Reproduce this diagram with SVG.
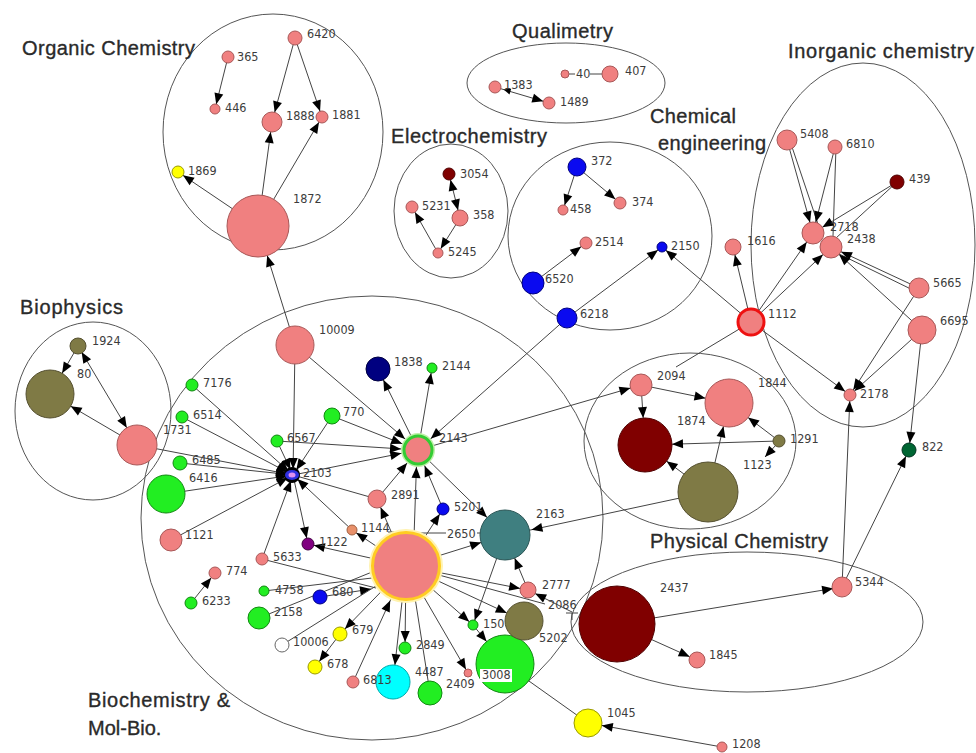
<svg xmlns="http://www.w3.org/2000/svg" width="976" height="753" viewBox="0 0 976 753">
<style>
.bg{fill:#fff}
.cl{fill:none;stroke:#555;stroke-width:1}
.e line{stroke:#444;stroke-width:1}
.t{font-family:"Liberation Sans",Arial,sans-serif;font-size:20px;fill:#2a2a2a;stroke:#2a2a2a;stroke-width:0.35}
.l{font-family:"DejaVu Sans Condensed","DejaVu Sans",sans-serif;font-stretch:condensed;font-size:12.5px;fill:#3c3c3c}
.pk{fill:#f08080;stroke:#a85858}
.gr{fill:#22ee22;stroke:#118811}
.bl{fill:#0a0af0;stroke:#000080}
.nv{fill:#000080;stroke:#000040}
.dr{fill:#800000;stroke:#500000}
.ol{fill:#7f7a45;stroke:#555030}
.tl{fill:#3f7f80;stroke:#2a5555}
.cy{fill:#00ffff;stroke:#00aaaa}
.yl{fill:#ffff00;stroke:#999900}
.pu{fill:#800080;stroke:#400040}
.or{fill:#e8906a;stroke:#a06040}
.wh{fill:#fff;stroke:#666}
.dg{fill:#006633;stroke:#003320}
</style>
<defs>
<marker id="m0" markerUnits="userSpaceOnUse" markerWidth="60" markerHeight="10" refX="11" refY="4.5" orient="auto-start-reverse" overflow="visible"><path d="M0,0L11,4.5L0,9z" fill="#000"/></marker>
<marker id="m4" markerUnits="userSpaceOnUse" markerWidth="60" markerHeight="10" refX="15" refY="4.5" orient="auto-start-reverse" overflow="visible"><path d="M0,0L11,4.5L0,9z" fill="#000"/></marker>
<marker id="m5" markerUnits="userSpaceOnUse" markerWidth="60" markerHeight="10" refX="16" refY="4.5" orient="auto-start-reverse" overflow="visible"><path d="M0,0L11,4.5L0,9z" fill="#000"/></marker>
<marker id="m6" markerUnits="userSpaceOnUse" markerWidth="60" markerHeight="10" refX="17" refY="4.5" orient="auto-start-reverse" overflow="visible"><path d="M0,0L11,4.5L0,9z" fill="#000"/></marker>
<marker id="m7" markerUnits="userSpaceOnUse" markerWidth="60" markerHeight="10" refX="18" refY="4.5" orient="auto-start-reverse" overflow="visible"><path d="M0,0L11,4.5L0,9z" fill="#000"/></marker>
<marker id="m8" markerUnits="userSpaceOnUse" markerWidth="60" markerHeight="10" refX="19" refY="4.5" orient="auto-start-reverse" overflow="visible"><path d="M0,0L11,4.5L0,9z" fill="#000"/></marker>
<marker id="m9" markerUnits="userSpaceOnUse" markerWidth="60" markerHeight="10" refX="20" refY="4.5" orient="auto-start-reverse" overflow="visible"><path d="M0,0L11,4.5L0,9z" fill="#000"/></marker>
<marker id="m10" markerUnits="userSpaceOnUse" markerWidth="60" markerHeight="10" refX="21" refY="4.5" orient="auto-start-reverse" overflow="visible"><path d="M0,0L11,4.5L0,9z" fill="#000"/></marker>
<marker id="m11" markerUnits="userSpaceOnUse" markerWidth="60" markerHeight="10" refX="22" refY="4.5" orient="auto-start-reverse" overflow="visible"><path d="M0,0L11,4.5L0,9z" fill="#000"/></marker>
<marker id="m12" markerUnits="userSpaceOnUse" markerWidth="60" markerHeight="10" refX="23" refY="4.5" orient="auto-start-reverse" overflow="visible"><path d="M0,0L11,4.5L0,9z" fill="#000"/></marker>
<marker id="m13" markerUnits="userSpaceOnUse" markerWidth="60" markerHeight="10" refX="25" refY="4.5" orient="auto-start-reverse" overflow="visible"><path d="M0,0L11,4.5L0,9z" fill="#000"/></marker>
<marker id="m16" markerUnits="userSpaceOnUse" markerWidth="60" markerHeight="10" refX="28" refY="4.5" orient="auto-start-reverse" overflow="visible"><path d="M0,0L11,4.5L0,9z" fill="#000"/></marker>
<marker id="m17" markerUnits="userSpaceOnUse" markerWidth="60" markerHeight="10" refX="28" refY="4.5" orient="auto-start-reverse" overflow="visible"><path d="M0,0L11,4.5L0,9z" fill="#000"/></marker>
<marker id="m19" markerUnits="userSpaceOnUse" markerWidth="60" markerHeight="10" refX="30" refY="4.5" orient="auto-start-reverse" overflow="visible"><path d="M0,0L11,4.5L0,9z" fill="#000"/></marker>
<marker id="m20" markerUnits="userSpaceOnUse" markerWidth="60" markerHeight="10" refX="31" refY="4.5" orient="auto-start-reverse" overflow="visible"><path d="M0,0L11,4.5L0,9z" fill="#000"/></marker>
<marker id="m23" markerUnits="userSpaceOnUse" markerWidth="60" markerHeight="10" refX="35" refY="4.5" orient="auto-start-reverse" overflow="visible"><path d="M0,0L11,4.5L0,9z" fill="#000"/></marker>
<marker id="m25" markerUnits="userSpaceOnUse" markerWidth="60" markerHeight="10" refX="36" refY="4.5" orient="auto-start-reverse" overflow="visible"><path d="M0,0L11,4.5L0,9z" fill="#000"/></marker>
<marker id="m27" markerUnits="userSpaceOnUse" markerWidth="60" markerHeight="10" refX="38" refY="4.5" orient="auto-start-reverse" overflow="visible"><path d="M0,0L11,4.5L0,9z" fill="#000"/></marker>
<marker id="m29" markerUnits="userSpaceOnUse" markerWidth="60" markerHeight="10" refX="40" refY="4.5" orient="auto-start-reverse" overflow="visible"><path d="M0,0L11,4.5L0,9z" fill="#000"/></marker>
<marker id="m31" markerUnits="userSpaceOnUse" markerWidth="60" markerHeight="10" refX="42" refY="4.5" orient="auto-start-reverse" overflow="visible"><path d="M0,0L11,4.5L0,9z" fill="#000"/></marker>
<marker id="m38" markerUnits="userSpaceOnUse" markerWidth="60" markerHeight="10" refX="49" refY="4.5" orient="auto-start-reverse" overflow="visible"><path d="M0,0L11,4.5L0,9z" fill="#000"/></marker>
<marker id="sm" markerUnits="userSpaceOnUse" markerWidth="30" markerHeight="8" refX="16" refY="3" orient="auto-start-reverse" overflow="visible"><path d="M0,0L7,3L0,6z" fill="#000"/></marker>
</defs>
<rect class="bg" width="976" height="753"/>

<g id="clusters">
<ellipse class="cl" cx="273" cy="132" rx="110" ry="118"/>
<ellipse class="cl" cx="566" cy="83" rx="99" ry="40"/>
<ellipse class="cl" cx="451" cy="211" rx="57" ry="67"/>
<ellipse class="cl" cx="610" cy="236" rx="102" ry="94"/>
<ellipse class="cl" cx="863" cy="245" rx="112" ry="182"/>
<ellipse class="cl" cx="93" cy="411" rx="78" ry="89"/>
<ellipse class="cl" cx="372" cy="518" rx="231" ry="222"/>
<ellipse class="cl" cx="690" cy="441" rx="106" ry="88"/>
<ellipse class="cl" cx="747" cy="622" rx="176" ry="70"/>
<text class="t" x="22" y="55" textLength="173">Organic Chemistry</text>
<text class="t" x="512" y="38" textLength="101">Qualimetry</text>
<text class="t" x="391" y="143" textLength="156">Electrochemistry</text>
<text class="t" x="650" y="123" textLength="86">Chemical</text>
<text class="t" x="658" y="150" textLength="108">engineering</text>
<text class="t" x="788" y="58" textLength="186">Inorganic chemistry</text>
<text class="t" x="20" y="314" textLength="103">Biophysics</text>
<text class="t" x="650" y="548" textLength="178">Physical Chemistry</text>
<text class="t" x="88" y="707" textLength="142">Biochemistry &amp;</text>
<text class="t" x="88" y="735">Mol-Bio.</text>
</g>

<g id="connectors" class="e">
<line x1="228" y1="57" x2="215" y2="109" marker-end="url(#m5)"/>
<line x1="295" y1="38" x2="272" y2="122" marker-end="url(#m10)"/>
<line x1="295" y1="38" x2="322" y2="117" marker-end="url(#m6)"/>
<line x1="258" y1="226" x2="272" y2="122" marker-end="url(#m10)"/>
<line x1="258" y1="226" x2="322" y2="117" marker-end="url(#m6)"/>
<line x1="258" y1="226" x2="178" y2="172" marker-end="url(#m6)"/>
<line x1="295" y1="345" x2="258" y2="226" marker-end="url(#m31)"/>
<line x1="495" y1="87" x2="549" y2="103" marker-start="url(#sm)" marker-end="url(#m6)"/>
<line x1="569" y1="74" x2="575" y2="74"/>
<line x1="590" y1="74" x2="602" y2="74"/>
<line x1="449" y1="174" x2="460" y2="218" marker-start="url(#m6)" marker-end="url(#m8)"/>
<line x1="460" y1="218" x2="438" y2="253" marker-end="url(#m5)"/>
<line x1="438" y1="253" x2="412" y2="207" marker-end="url(#m6)"/>
<line x1="577" y1="167" x2="563" y2="210" marker-end="url(#m5)"/>
<line x1="577" y1="167" x2="620" y2="203" marker-end="url(#m6)"/>
<line x1="533" y1="283" x2="586" y2="243" marker-end="url(#m6)"/>
<line x1="567" y1="318" x2="662" y2="247" marker-end="url(#m5)"/>
<line x1="751" y1="322" x2="662" y2="247" marker-end="url(#m5)"/>
<line x1="787" y1="140" x2="813" y2="233" marker-end="url(#m11)"/>
<line x1="790" y1="141" x2="818" y2="224"/>
<line x1="835" y1="147" x2="813" y2="233" marker-end="url(#m11)"/>
<line x1="836" y1="147" x2="833" y2="236"/>
<line x1="897" y1="182" x2="813" y2="233" marker-end="url(#m11)"/>
<line x1="897" y1="182" x2="836" y2="238"/>
<line x1="919" y1="288" x2="831" y2="247" marker-end="url(#m11)"/>
<line x1="917" y1="292" x2="833" y2="251"/>
<line x1="922" y1="330" x2="831" y2="247" marker-end="url(#m11)"/>
<line x1="751" y1="322" x2="813" y2="233" marker-end="url(#m11)"/>
<line x1="751" y1="322" x2="831" y2="247" marker-end="url(#m11)"/>
<line x1="751" y1="322" x2="733" y2="247" marker-end="url(#m8)"/>
<line x1="751" y1="322" x2="850" y2="395" marker-end="url(#m6)"/>
<line x1="919" y1="288" x2="850" y2="395" marker-end="url(#m6)"/>
<line x1="922" y1="330" x2="850" y2="395" marker-end="url(#m6)"/>
<line x1="922" y1="330" x2="909" y2="450" marker-end="url(#m7)"/>
<line x1="842" y1="587" x2="850" y2="395" marker-end="url(#m6)"/>
<line x1="842" y1="587" x2="909" y2="450" marker-end="url(#m7)"/>
<line x1="751" y1="322" x2="676" y2="367"/>
<line x1="418" y1="450" x2="641" y2="385" marker-end="url(#m11)"/>
<line x1="641" y1="385" x2="645" y2="445" marker-end="url(#m27)"/>
<line x1="641" y1="385" x2="729" y2="403" marker-end="url(#m23)"/>
<line x1="779" y1="441" x2="645" y2="445" marker-end="url(#m27)"/>
<line x1="779" y1="441" x2="729" y2="403" marker-end="url(#m23)"/>
<line x1="708" y1="492" x2="645" y2="445" marker-end="url(#m27)"/>
<line x1="708" y1="492" x2="729" y2="403" marker-end="url(#m23)"/>
<line x1="776" y1="445" x2="765" y2="457" marker-end="url(#m0)"/>
<line x1="708" y1="492" x2="507" y2="535" marker-end="url(#m25)"/>
<line x1="617" y1="624" x2="842" y2="587" marker-end="url(#m9)"/>
<line x1="617" y1="624" x2="697" y2="660" marker-end="url(#m8)"/>
<line x1="722" y1="747" x2="588" y2="723" marker-end="url(#m13)"/>
<line x1="505" y1="664" x2="588" y2="723"/>
<line x1="78" y1="346" x2="50" y2="394" marker-end="url(#m23)"/>
<line x1="78" y1="346" x2="137" y2="445" marker-start="url(#m7)" marker-end="url(#m20)"/>
<line x1="137" y1="445" x2="50" y2="394" marker-end="url(#m23)"/>
<line x1="137" y1="445" x2="293" y2="475" marker-end="url(#m6)"/>
<line x1="192" y1="385" x2="293" y2="475" marker-end="url(#m6)"/>
<line x1="182" y1="417" x2="293" y2="475" marker-end="url(#m6)"/>
<line x1="180" y1="463" x2="293" y2="475" marker-end="url(#m6)"/>
<line x1="166" y1="494" x2="293" y2="475" marker-end="url(#m6)"/>
<line x1="171" y1="540" x2="293" y2="475" marker-end="url(#m6)"/>
<line x1="277" y1="441" x2="293" y2="475" marker-end="url(#m6)"/>
<line x1="332" y1="416" x2="293" y2="475" marker-end="url(#m6)"/>
<line x1="295" y1="345" x2="293" y2="475" marker-end="url(#m6)"/>
<line x1="293" y1="475" x2="418" y2="450" marker-end="url(#m16)"/>
<line x1="377" y1="499" x2="293" y2="475"/>
<line x1="352" y1="530" x2="293" y2="475" marker-end="url(#m6)"/>
<line x1="293" y1="475" x2="308" y2="544" marker-end="url(#m6)"/>
<line x1="262" y1="559" x2="293" y2="475" marker-end="url(#m6)"/>
<line x1="295" y1="345" x2="418" y2="450" marker-end="url(#m16)"/>
<line x1="332" y1="416" x2="418" y2="450" marker-end="url(#m16)"/>
<line x1="277" y1="441" x2="418" y2="450" marker-end="url(#m16)"/>
<line x1="418" y1="450" x2="378" y2="369" marker-end="url(#m12)"/>
<line x1="418" y1="450" x2="432" y2="368" marker-end="url(#m5)"/>
<line x1="567" y1="318" x2="418" y2="450" marker-end="url(#m16)"/>
<line x1="377" y1="499" x2="418" y2="450" marker-end="url(#m16)"/>
<line x1="413" y1="566" x2="417" y2="450" marker-end="url(#m16)"/>
<line x1="443" y1="509" x2="418" y2="450" marker-end="url(#m16)"/>
<line x1="418" y1="450" x2="505" y2="535" marker-end="url(#m25)"/>
<line x1="406" y1="566" x2="377" y2="499" marker-end="url(#m9)"/>
<line x1="406" y1="566" x2="443" y2="509" marker-end="url(#m6)"/>
<line x1="406" y1="566" x2="505" y2="535" marker-end="url(#m25)"/>
<line x1="418" y1="533" x2="484" y2="533"/>
<line x1="406" y1="566" x2="352" y2="530" marker-end="url(#m5)"/>
<line x1="406" y1="566" x2="308" y2="544" marker-end="url(#m6)"/>
<line x1="262" y1="559" x2="376" y2="588"/>
<line x1="264" y1="591" x2="372" y2="578"/>
<line x1="320" y1="597" x2="371" y2="589" marker-end="url(#m0)"/>
<line x1="259" y1="618" x2="372" y2="572"/>
<line x1="282" y1="645" x2="376" y2="586"/>
<line x1="406" y1="566" x2="340" y2="634" marker-end="url(#m7)"/>
<line x1="340" y1="634" x2="315" y2="667" marker-end="url(#m7)"/>
<line x1="353" y1="682" x2="406" y2="566" marker-end="url(#m38)"/>
<line x1="406" y1="566" x2="393" y2="682" marker-end="url(#m17)"/>
<line x1="406" y1="566" x2="405" y2="648" marker-end="url(#m6)"/>
<line x1="410" y1="566" x2="430" y2="693"/>
<line x1="406" y1="566" x2="468" y2="673" marker-end="url(#m4)"/>
<line x1="406" y1="566" x2="473" y2="625" marker-end="url(#m5)"/>
<line x1="505" y1="535" x2="473" y2="625" marker-end="url(#m5)"/>
<line x1="473" y1="625" x2="505" y2="664" marker-end="url(#m29)"/>
<line x1="406" y1="566" x2="524" y2="621" marker-end="url(#m19)"/>
<line x1="406" y1="566" x2="528" y2="590" marker-end="url(#m8)"/>
<line x1="528" y1="590" x2="505" y2="535" marker-end="url(#m25)"/>
<line x1="572" y1="612" x2="528" y2="590" marker-end="url(#m8)"/>
<line x1="406" y1="566" x2="545" y2="604"/>
<line x1="566" y1="613" x2="578" y2="613"/>
<line x1="572" y1="613" x2="572" y2="620"/>
<line x1="388" y1="532" x2="398" y2="532"/>
<line x1="191" y1="603" x2="215" y2="573" marker-end="url(#m6)"/>
</g>

<g id="nodes">
<g id="n6420"><circle class="pk" cx="295" cy="38" r="7"/><text class="l" x="307" y="38">6420</text></g>
<g id="n365"><circle class="pk" cx="228" cy="57" r="6"/><text class="l" x="237" y="61">365</text></g>
<g id="n446"><circle class="pk" cx="215" cy="109" r="5"/><text class="l" x="225" y="112">446</text></g>
<g id="n1888"><circle class="pk" cx="272" cy="122" r="10"/><text class="l" x="286" y="120">1888</text></g>
<g id="n1881"><circle class="pk" cx="322" cy="117" r="6"/><text class="l" x="332" y="119">1881</text></g>
<g id="n1869"><circle class="yl" cx="178" cy="172" r="6"/><text class="l" x="188" y="175">1869</text></g>
<g id="n1872"><circle class="pk" cx="258" cy="226" r="31"/><text class="l" x="293" y="203">1872</text></g>

<g id="n1383"><circle class="pk" cx="495" cy="87" r="6"/><text class="l" x="504" y="89">1383</text></g>
<g id="n1489"><circle class="pk" cx="549" cy="103" r="6"/><text class="l" x="560" y="106">1489</text></g>
<g id="n40"><circle class="pk" cx="565" cy="74" r="4"/><text class="l" x="576" y="78">40</text></g>
<g id="n407"><circle class="pk" cx="610" cy="74" r="8"/><text class="l" x="625" y="75">407</text></g>

<g id="n3054"><circle class="dr" cx="449" cy="174" r="6"/><text class="l" x="460" y="178">3054</text></g>
<g id="n5231"><circle class="pk" cx="412" cy="207" r="6"/><text class="l" x="422" y="210">5231</text></g>
<g id="n358"><circle class="pk" cx="460" cy="218" r="8"/><text class="l" x="473" y="219">358</text></g>
<g id="n5245"><circle class="pk" cx="438" cy="253" r="5"/><text class="l" x="448" y="256">5245</text></g>

<g id="n372"><circle class="bl" cx="577" cy="167" r="9"/><text class="l" x="591" y="165">372</text></g>
<g id="n458"><circle class="pk" cx="563" cy="210" r="5"/><text class="l" x="570" y="213">458</text></g>
<g id="n374"><circle class="pk" cx="620" cy="203" r="6"/><text class="l" x="632" y="206">374</text></g>
<g id="n2514"><circle class="pk" cx="586" cy="243" r="6"/><text class="l" x="595" y="246">2514</text></g>
<g id="n2150"><circle class="bl" cx="662" cy="247" r="5"/><text class="l" x="671" y="250">2150</text></g>
<g id="n6520"><circle class="bl" cx="533" cy="283" r="11"/><text class="l" x="545" y="283">6520</text></g>
<g id="n6218"><circle class="bl" cx="567" cy="318" r="10"/><text class="l" x="580" y="318">6218</text></g>

<g id="n5408"><circle class="pk" cx="787" cy="140" r="10"/><text class="l" x="800" y="138">5408</text></g>
<g id="n6810"><circle class="pk" cx="835" cy="147" r="7"/><text class="l" x="846" y="148">6810</text></g>
<g id="n439"><circle class="dr" cx="897" cy="182" r="7"/><text class="l" x="909" y="183">439</text></g>
<g id="n2718"><circle class="pk" cx="813" cy="233" r="11"/><text class="l" x="830" y="231">2718</text></g>
<g id="n2438"><circle class="pk" cx="831" cy="247" r="11"/><text class="l" x="847" y="243">2438</text></g>
<g id="n1616"><circle class="pk" cx="733" cy="247" r="8"/><text class="l" x="747" y="245">1616</text></g>
<g id="n1112"><circle cx="751" cy="322" r="13" fill="#f08080" stroke="#ee1111" stroke-width="3"/><text class="l" x="768" y="318">1112</text></g>
<g id="n5665"><circle class="pk" cx="919" cy="288" r="10"/><text class="l" x="933" y="287">5665</text></g>
<g id="n6695"><circle class="pk" cx="922" cy="330" r="14"/><text class="l" x="940" y="325">6695</text></g>
<g id="n2178"><circle class="pk" cx="850" cy="395" r="6"/><text class="l" x="860" y="398">2178</text></g>
<g id="n822"><circle class="dg" cx="909" cy="450" r="7"/><text class="l" x="922" y="451">822</text></g>

<g id="n1924"><circle class="ol" cx="78" cy="346" r="8"/><text class="l" x="92" y="345">1924</text></g>
<g id="n80"><circle class="ol" cx="50" cy="394" r="24"/><text class="l" x="77" y="378">80</text></g>
<g id="n1731"><circle class="pk" cx="137" cy="445" r="20"/><text class="l" x="163" y="434">1731</text></g>

<g id="n2094"><circle class="pk" cx="641" cy="385" r="11"/><text class="l" x="657" y="380">2094</text></g>
<g id="n1844"><circle class="pk" cx="729" cy="403" r="24"/><text class="l" x="758" y="387">1844</text></g>
<g id="n1874"><circle class="dr" cx="645" cy="445" r="27"/><text class="l" x="677" y="425">1874</text></g>
<g id="n1291"><circle class="ol" cx="779" cy="441" r="6"/><text class="l" x="790" y="443">1291</text></g>
<g id="n1123"><circle class="ol" cx="708" cy="492" r="30"/><text class="l" x="743" y="469">1123</text></g>

<g id="n2437"><circle class="dr" cx="617" cy="624" r="38"/><text class="l" x="660" y="592">2437</text></g>
<g id="n5344"><circle class="pk" cx="842" cy="587" r="10"/><text class="l" x="855" y="586">5344</text></g>
<g id="n1845"><circle class="pk" cx="697" cy="660" r="8"/><text class="l" x="709" y="659">1845</text></g>
<g id="n1045"><circle class="yl" cx="588" cy="723" r="14"/><text class="l" x="607" y="717">1045</text></g>
<g id="n1208"><circle class="pk" cx="722" cy="747" r="5"/><text class="l" x="732" y="748">1208</text></g>

<g id="n10009"><circle class="pk" cx="295" cy="345" r="19"/><text class="l" x="319" y="334">10009</text></g>
<g id="n1838"><circle class="nv" cx="378" cy="369" r="12"/><text class="l" x="394" y="366">1838</text></g>
<g id="n2144"><circle class="gr" cx="432" cy="368" r="5"/><text class="l" x="442" y="370">2144</text></g>
<g id="n770"><circle class="gr" cx="332" cy="416" r="8"/><text class="l" x="343" y="416">770</text></g>
<g id="n7176"><circle class="gr" cx="192" cy="385" r="6"/><text class="l" x="203" y="387">7176</text></g>
<g id="n6514"><circle class="gr" cx="182" cy="417" r="6"/><text class="l" x="193" y="419">6514</text></g>
<g id="n6567"><circle class="gr" cx="277" cy="441" r="6"/><text class="l" x="287" y="442">6567</text></g>
<g id="n2143"><circle cx="418" cy="450" r="17" fill="#bff0a8"/><circle cx="418" cy="450" r="14" fill="#f08080" stroke="#33cc33" stroke-width="3"/><text class="l" x="439" y="442">2143</text></g>
<g id="n2103"><circle cx="292" cy="475" r="8" fill="#000"/><ellipse cx="292" cy="475" rx="7" ry="5" fill="#3030e0"/><ellipse cx="292" cy="475" rx="3.5" ry="2.5" fill="#e090f0"/><text class="l" x="303" y="477">2103</text></g>
<g id="n6485"><circle class="gr" cx="180" cy="463" r="7"/><text class="l" x="192" y="464">6485</text></g>
<g id="n6416"><circle class="gr" cx="166" cy="494" r="19"/><text class="l" x="189" y="482">6416</text></g>
<g id="n1121"><circle class="pk" cx="171" cy="540" r="11"/><text class="l" x="185" y="539">1121</text></g>
<g id="n2891"><circle class="pk" cx="377" cy="499" r="9"/><text class="l" x="391" y="499">2891</text></g>
<g id="n5201"><circle class="bl" cx="443" cy="509" r="6"/><text class="l" x="454" y="511">5201</text></g>
<g id="n1144"><circle class="or" cx="352" cy="530" r="5"/><text class="l" x="361" y="532">1144</text></g>
<g id="n1122"><circle class="pu" cx="308" cy="544" r="6"/><text class="l" x="319" y="546">1122</text></g>
<g id="n2163"><circle class="tl" cx="505" cy="535" r="25"/><text class="l" x="536" y="518">2163</text></g>
<g id="n2650"><circle cx="406" cy="566" r="37" fill="#fff3b0"/><circle cx="406" cy="566" r="33.5" fill="#f08080" stroke="#ffcc22" stroke-width="3"/><rect x="446" y="528" width="31" height="12" fill="#fff"/><text class="l" x="447" y="538">2650</text></g>
<g id="n5633"><circle class="pk" cx="262" cy="559" r="6"/><text class="l" x="273" y="561">5633</text></g>
<g id="n774"><circle class="pk" cx="215" cy="573" r="6"/><text class="l" x="226" y="575">774</text></g>
<g id="n6233"><circle class="gr" cx="191" cy="603" r="6"/><text class="l" x="202" y="605">6233</text></g>
<g id="n4758"><circle class="gr" cx="264" cy="591" r="5"/><text class="l" x="275" y="594">4758</text></g>
<g id="n680"><circle class="bl" cx="320" cy="597" r="7"/><text class="l" x="332" y="596">680</text></g>
<g id="n2158"><circle class="gr" cx="259" cy="618" r="11"/><text class="l" x="274" y="616">2158</text></g>
<g id="n679"><circle class="yl" cx="340" cy="634" r="7"/><text class="l" x="352" y="634">679</text></g>
<g id="n10006"><circle class="wh" cx="282" cy="645" r="7"/><text class="l" x="293" y="646">10006</text></g>
<g id="n678"><circle class="yl" cx="315" cy="667" r="7"/><text class="l" x="327" y="668">678</text></g>
<g id="ncyan"><circle class="cy" cx="393" cy="682" r="17"/></g>
<g id="n6813"><circle class="pk" cx="353" cy="682" r="6"/><text class="l" x="363" y="684">6813</text></g>
<g id="n2849"><circle class="gr" cx="405" cy="648" r="6"/><text class="l" x="416" y="649">2849</text></g>
<g id="n4487"><circle class="gr" cx="430" cy="693" r="12"/><text class="l" x="415" y="676">4487</text></g>
<g id="n2409"><circle class="pk" cx="468" cy="673" r="4"/><text class="l" x="446" y="688">2409</text></g>
<g id="n3008"><circle class="gr" cx="505" cy="664" r="29"/><rect x="480" y="669" width="32" height="13" fill="#fff"/><text class="l" x="482" y="679">3008</text></g>
<g id="n150"><circle class="gr" cx="473" cy="625" r="5"/><text class="l" x="483" y="628">150</text></g>
<g id="n5202"><circle class="ol" cx="524" cy="621" r="19"/><text class="l" x="539" y="642">5202</text></g>
<g id="n2777"><circle class="pk" cx="528" cy="590" r="8"/><text class="l" x="542" y="589">2777</text></g>
<g id="n2086"><text class="l" x="548" y="609">2086</text></g>
</g>
</svg>
